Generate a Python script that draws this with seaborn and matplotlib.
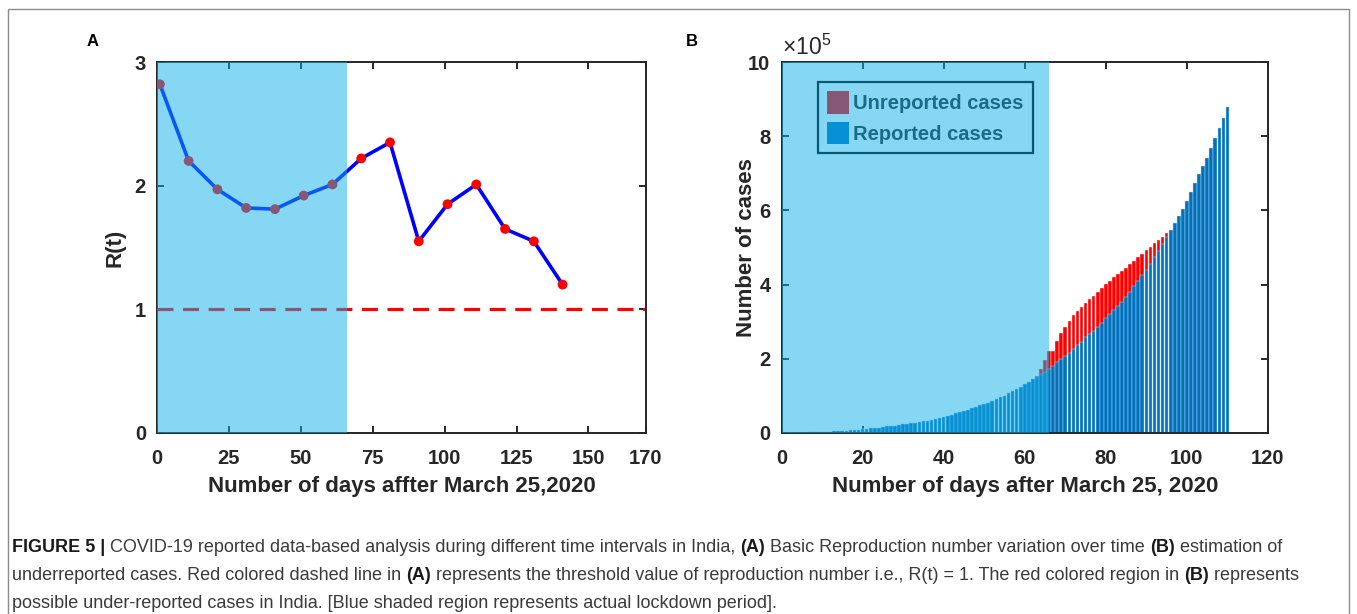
import matplotlib
matplotlib.use("Agg")
import matplotlib.pyplot as plt
from matplotlib.patches import Rectangle, Patch
import seaborn as sns
import numpy as np

# ---------------- data ----------------
# Panel A: R(t) estimates
rt_days = [1, 11, 21, 31, 41, 51, 61, 71, 81, 91, 101, 111, 121, 131, 141]
rt_values = [2.82, 2.20, 1.97, 1.82, 1.81, 1.92, 2.01, 2.22, 2.35, 1.55,
             1.85, 2.01, 1.65, 1.55, 1.20]
threshold = 1.0
lockdown_end = 66

# Panel B: cumulative reported cases (days after March 25, 2020)
reported = [657, 727, 887, 987, 1024, 1251, 1397, 1998, 2543, 2567,
            3082, 3588, 4778, 5311, 5916, 6725, 7598, 8446, 9205, 10453,
            11487, 12322, 13430, 14352, 15722, 17615, 18539, 20080, 21370, 23077,
            24530, 26283, 27890, 29451, 31324, 33062, 34863, 37257, 39699, 42505,
            46437, 49400, 52987, 56351, 59695, 62808, 67161, 70768, 74292, 78055,
            81997, 85784, 90648, 95698, 100328, 106475, 112028, 118226, 124794, 131423,
            138536, 144950, 150793, 158086, 165386, 173491, 181827, 190609, 198370, 207191,
            216824, 226713, 236184, 246622, 257486, 265928, 276146, 286579, 297535, 308993,
            320922, 332424, 343091, 354065, 366946, 380532, 395048, 410461, 425282, 440215,
            456183, 473105, 490401, 508953, 528859, 548318, 566840, 585481, 604641, 625544,
            648315, 673165, 697413, 719665, 742417, 767296, 793802, 820916, 849553, 878254]
# estimated unreported cases, days 63..95
unreported_first_day = 63
unreported_vals = [3000, 13900, 31600, 48500, 40200, 57400, 70600, 79800, 86200, 90300,
                   92800, 93400, 93500, 95100, 93900, 94400, 93500, 92000, 88100, 87600,
                   85900, 82900, 79100, 75500, 69000, 63500, 56700, 51800, 44800, 37900,
                   29600, 20000, 9100]

days = list(range(1, len(reported) + 1))
unreported = [0] * len(reported)
for i, v in enumerate(unreported_vals):
    unreported[unreported_first_day - 1 + i] = v
total = [r + u for r, u in zip(reported, unreported)]

xticks_a = [0, 25, 50, 75, 100, 125, 150, 170]
yticks_a = [0, 1, 2, 3]
xticks_b = [0, 20, 40, 60, 80, 100, 120]
yticks_b = [0, 2e5, 4e5, 6e5, 8e5, 10e5]
yticklabels_b = ["0", "2", "4", "6", "8", "10"]

# ---------------- style ----------------
sns.set_style("ticks")
plt.rcParams["font.family"] = ["Liberation Sans", "DejaVu Sans"]
plt.rcParams["mathtext.fontset"] = "custom"
plt.rcParams["mathtext.rm"] = "Liberation Sans"
TXT = "#262626"
SHADE = (15 / 255, 177 / 255, 235 / 255)
BLUE = (0, 0.447, 0.741)

W, H = 1357, 614
fig = plt.figure(figsize=(W / 100, H / 100), dpi=100)

def fx(px):
    return px / W

def fy(py):
    return 1 - py / H

axA = fig.add_axes([fx(157), fy(433), fx(646) - fx(157), fy(62) - fy(433)])
axB = fig.add_axes([fx(781.5), fy(433), fx(1268) - fx(781.5), fy(62) - fy(433)])

def style_axes(ax):
    for s in ax.spines.values():
        s.set_color(TXT)
        s.set_linewidth(1.4)
        s.set_visible(True)
    ax.tick_params(direction="in", length=5, width=1.4, color=TXT,
                   top=True, right=True, labelsize=14.5, labelcolor=TXT)
    ax.tick_params(axis="x", pad=11.5)
    ax.tick_params(axis="y", pad=8)
    for lab in ax.get_xticklabels() + ax.get_yticklabels():
        lab.set_fontweight("bold")

# ---------------- panel A ----------------
sns.lineplot(x=rt_days, y=rt_values, color="blue", lw=2.6, estimator=None,
             ax=axA, zorder=2)
sns.scatterplot(x=rt_days, y=rt_values, color="red", s=50, edgecolor="none",
                ax=axA, zorder=3)
axA.axhline(threshold, color="red", lw=2.3, dashes=(5, 3), zorder=2)
axA.axvspan(0, lockdown_end, color=SHADE, alpha=0.5, lw=0, zorder=10)
axA.set_xlim(0, 170)
axA.set_ylim(0, 3)
axA.set_xticks(xticks_a)
axA.set_yticks(yticks_a)
axA.set_xticklabels([str(t) for t in xticks_a])
axA.set_yticklabels([str(t) for t in yticks_a])
axA.set_xlabel("Number of days affter March 25,2020", fontsize=16,
               fontweight="bold", color=TXT, labelpad=6)
axA.set_ylabel("R(t)", fontsize=16, fontweight="bold", color=TXT)
axA.yaxis.set_label_coords(-0.0634, 0.5)
style_axes(axA)

# ---------------- panel B ----------------
sns.barplot(x=days, y=total, native_scale=True, orient="x", width=0.9,
            color="red", saturation=1, linewidth=0.3, edgecolor="#f4f4f4",
            errorbar=None, ax=axB)
sns.barplot(x=days, y=reported, native_scale=True, orient="x", width=0.9,
            color=BLUE, saturation=1, linewidth=0.3, edgecolor="#c9dcee",
            errorbar=None, ax=axB)
axB.axvspan(0, lockdown_end, color=SHADE, alpha=0.5, lw=0, zorder=10)
axB.set_xlim(0, 120)
axB.set_ylim(0, 10e5)
axB.set_xticks(xticks_b)
axB.set_xticklabels([str(t) for t in xticks_b])
axB.set_yticks(yticks_b)
axB.set_yticklabels(yticklabels_b)
axB.set_xlabel("Number of days after March 25, 2020", fontsize=16,
               fontweight="bold", color=TXT, labelpad=6)
axB.set_ylabel("Number of cases", fontsize=16, fontweight="bold", color=TXT)
axB.yaxis.set_label_coords(-0.0504, 0.5)
style_axes(axB)
axB.text(0.0, 1.006, r"$\mathregular{\times10^{5}}$", transform=axB.transAxes,
         fontsize=16.5, color=TXT, ha="left", va="bottom")

handles = [Patch(facecolor="red", edgecolor="none"),
           Patch(facecolor=BLUE, edgecolor="none")]
leg = axB.legend(handles, ["Unreported cases", "Reported cases"],
                 loc="upper left", bbox_to_anchor=(0.075, 0.946), borderaxespad=0,
                 frameon=True, fancybox=False, framealpha=1, facecolor="white",
                 edgecolor="black", handlelength=1.1, handleheight=1.35,
                 handletextpad=0.2, labelspacing=0.4, borderpad=0.45,
                 prop={"size": 14.5, "weight": "bold"})
leg.get_frame().set_linewidth(1.6)
leg.set_zorder(5)

# panel letters
fig.text(fx(93), fy(42), "A", fontsize=12, fontweight="bold", color="black",
         ha="center", va="center")
fig.text(fx(692), fy(42), "B", fontsize=12, fontweight="bold", color="black",
         ha="center", va="center")

# figure border
fig.add_artist(Rectangle((fx(8), -0.05), fx(1349) - fx(8), fy(9) + 0.05,
                         transform=fig.transFigure, fill=False,
                         edgecolor="#8c8c8c", lw=1.0))

# ---------------- caption ----------------
CAP = "#3a3a3a"
cap_size = 13
lines = [
    [("FIGURE 5 | ", "bold"),
     ("COVID-19 reported data-based analysis during different time intervals in India, ", "normal"),
     ("(A)", "bold"), (" Basic Reproduction number variation over time ", "normal"),
     ("(B)", "bold"), (" estimation of", "normal")],
    [("underreported cases. Red colored dashed line in ", "normal"), ("(A)", "bold"),
     (" represents the threshold value of reproduction number i.e., R(t) = 1. The red colored region in ", "normal"),
     ("(B)", "bold"), (" represents", "normal")],
    [("possible under-reported cases in India. [Blue shaded region represents actual lockdown period].", "normal")],
]
line_y = [548, 576, 603]
renderer = fig.canvas.get_renderer()
for runs, ypix in zip(lines, line_y):
    x = fx(12)
    for text, weight in runs:
        t = fig.text(x, fy(ypix), text, fontsize=cap_size, fontweight=weight,
                     color=CAP if weight == "normal" else "#1a1a1a",
                     ha="left", va="center")
        bb = t.get_window_extent(renderer)
        x += bb.width / fig.bbox.width

fig.savefig("out.png", dpi=100)
